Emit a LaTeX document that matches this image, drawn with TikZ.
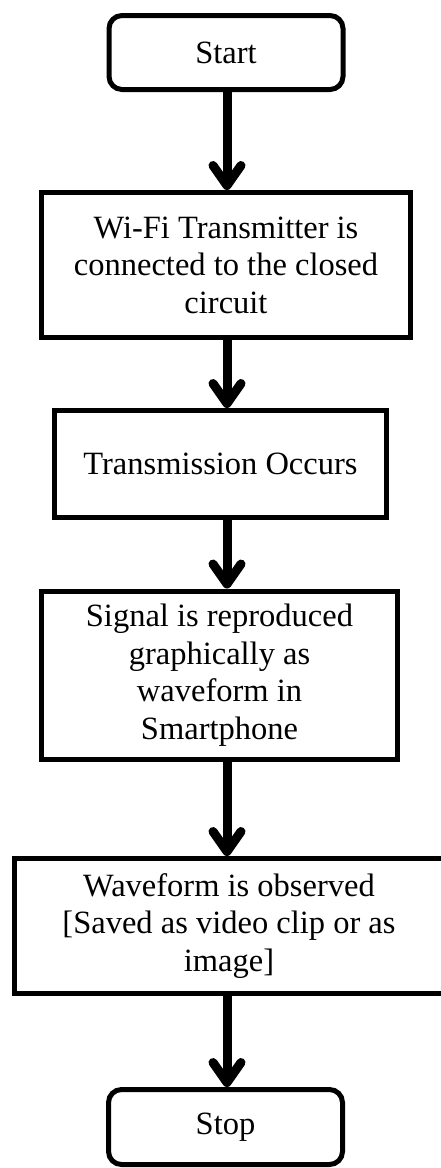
\documentclass[tikz,border=0pt]{standalone}
\usepackage{fontspec}
\setmainfont{Liberation Serif}
\usetikzlibrary{arrows.meta}
\begin{document}
\begin{tikzpicture}[x=1pt,y=-1pt,
  box/.style={draw=black,line width=5pt,fill=white,rectangle,align=center,inner sep=0pt,
    font=\fontsize{32.5}{37.5}\selectfont},
  term/.style={box,rounded corners=13pt},
  flow/.style={line width=9pt,-{Straight Barb[length=20pt,width=28pt,round]}}]
\useasboundingbox (0,0) rectangle (441,1168);
\clip (0,0) rectangle (441,1168);
\fill[white] (0,0) rectangle (441,1168);
\node[term,minimum width=234pt,minimum height=74pt] (start) at (226,52.5) {Start};
\node[box,minimum width=369pt,minimum height=145pt] (n1) at (226,265) {Wi-Fi Transmitter is\\connected to the closed\\circuit};
\node[box,minimum width=332pt,minimum height=107pt] (n2) at (220.5,464) {Transmission Occurs};
\node[box,minimum width=356pt,minimum height=168pt] (n3) at (219.5,675) {Signal is reproduced\\graphically as\\waveform in\\Smartphone};
\node[box,minimum width=429pt,minimum height=135pt] (n4) at (229,926) {Waveform is observed\\{[Saved as video clip or as}\\image]};
\node[term,minimum width=234pt,minimum height=75pt] (stop) at (225.5,1127) {Stop};
\draw[flow] (start.south -| 227,0) -- (n1.north -| 227,0);
\draw[flow] (n1.south -| 227,0) -- (n2.north -| 227,0);
\draw[flow] (n2.south -| 227,0) -- (n3.north -| 227,0);
\draw[flow] (n3.south -| 227,0) -- (n4.north -| 227,0);
\draw[flow] (n4.south -| 227,0) -- (stop.north -| 227,0);
\end{tikzpicture}
\end{document}
